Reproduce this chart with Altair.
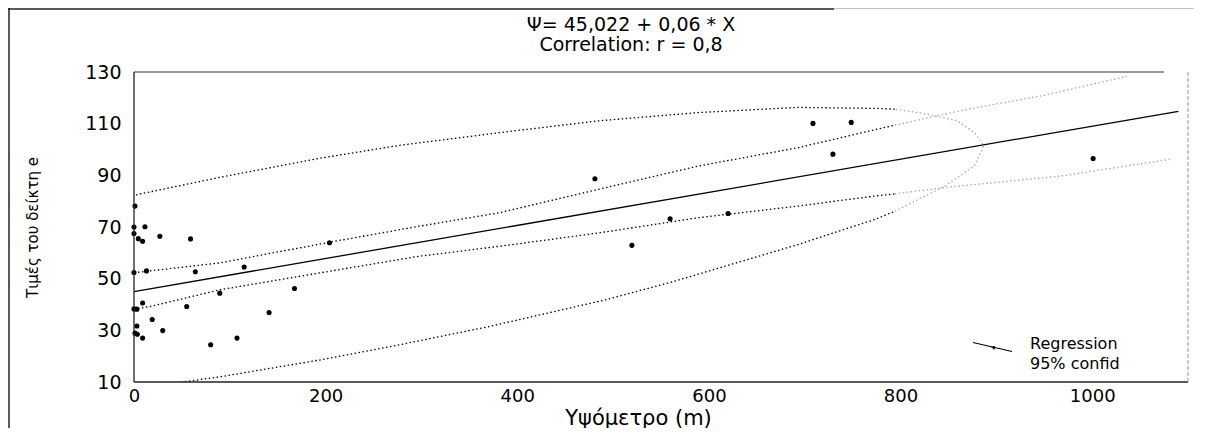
import altair as alt
import pandas as pd

# ---- scatter points ----
pts_x = [1, 11.4, 0, 0, 4.5, 9, 27, 59, 0, 13, 64, 115, 204, 167.5, 89.5, 9, 3, 0, 55, 141,
         19, 3, 30, 1, 3.5, 9, 107.5, 80, 481, 559.5, 620, 519.6, 708.6, 748.5, 729.4, 1001]
pts_y = [78.1, 70.1, 70.0, 67.5, 65.5, 64.5, 66.4, 65.4, 52.4, 53.0, 52.7, 54.5, 63.9, 46.2, 44.4, 40.6, 38.2, 38.3, 39.2, 36.9,
         34.2, 31.7, 29.9, 28.9, 28.5, 27.0, 27.0, 24.4, 88.7, 73.2, 75.2, 62.9, 110.1, 110.5, 98.2, 96.5]

# ---- regression line ----
reg_x = [0, 1090]
reg_y = [45.0, 114.8]

# ---- 95% confidence bands of the regression ----
ci_up_x = [0, 89.5, 204, 297.6, 381, 485, 589, 693, 776, 794]
ci_up_y = [52.3, 56.1, 64.1, 70.3, 75.5, 84.6, 93.6, 100.7, 107.9, 109.4]
ci_up_faint_x = [794, 866, 950, 1036]
ci_up_faint_y = [109.4, 115.3, 121.0, 128.3]
ci_lo_x = [0, 16.6, 89.5, 193.6, 297.6, 381, 485, 589, 693, 773, 794]
ci_lo_y = [38.2, 39.2, 45.7, 52.2, 58.7, 62.5, 67.7, 73.6, 78.1, 82.0, 82.8]
ci_lo_faint_x = [794, 846, 967, 1081]
ci_lo_faint_y = [82.8, 85.3, 89.7, 96.2]

# ---- confidence ellipse ----
ell_lo_x = [20, 41, 89.5, 193.6, 277, 371, 492, 564, 693, 773, 794]
ell_lo_y = [8.7, 9.5, 12.0, 18.5, 24.4, 31.5, 41.8, 49.0, 63.2, 72.9, 76.1]
ell_faint_x = [794, 846, 877, 887, 877, 859, 828, 794]
ell_faint_y = [76.1, 85.8, 93.6, 101.4, 106.6, 111.1, 113.7, 115.6]
ell_up_x = [794, 776, 693, 589, 485, 381, 277, 193.6, 89.5, 0]
ell_up_y = [115.6, 115.9, 116.3, 114.3, 111.1, 106.5, 101.6, 96.6, 89.2, 82.3]

x_ticks = [0, 200, 400, 600, 800, 1000]
y_ticks = [10, 30, 50, 70, 90, 110, 130]
title_lines = ["\u03a8= 45,022 + 0,06 * X", "Correlation: r = 0,8"]
x_title = "\u03a5\u03c8\u03cc\u03bc\u03b5\u03c4\u03c1\u03bf (m)"
y_title = "\u03a4\u03b9\u03bc\u03ad\u03c2 \u03c4\u03bf\u03c5 \u03b4\u03b5\u03af\u03ba\u03c4\u03b7 e"
legend_labels = ["Regression", "95% confid"]

FONT = "DejaVu Sans"
W, H = 1054, 310

xs = alt.Scale(domain=[0, 1100], nice=False, zero=False)
ys = alt.Scale(domain=[10, 130], nice=False, zero=False)
xaxis = alt.Axis(values=x_ticks, format="d", title=x_title, grid=False, ticks=False, domain=False,
                 labelFont=FONT, labelFontSize=18, labelColor="black", labelPadding=5,
                 labelFlush=False, labelOverlap=False,
                 titleFont=FONT, titleFontSize=21, titleFontWeight="normal", titleColor="black",
                 titleX=504, titleY=36, titleBaseline="middle", titleAlign="center")
yaxis = alt.Axis(values=y_ticks, format="d", title=y_title, grid=False, ticks=False, domain=False,
                 labelFont=FONT, labelFontSize=19, labelColor="black", labelPadding=13,
                 labelFlush=False, labelOverlap=False,
                 titleFont=FONT, titleFontSize=15, titleFontWeight="normal", titleColor="black",
                 titleX=-102, titleY=155, titleAngle=270, titleBaseline="middle", titleAlign="center")
X = alt.X("x:Q", scale=xs, axis=xaxis)
Y = alt.Y("y:Q", scale=ys, axis=yaxis)


def curve(xv, yv, color, dash=None, width=1.3, clip=False):
    df = pd.DataFrame({"x": xv, "y": yv, "o": list(range(len(xv)))})
    kw = dict(color=color, strokeWidth=width, clip=clip)
    if dash:
        kw["strokeDash"] = dash
    return alt.Chart(df).mark_line(**kw).encode(x=X, y=Y, order="o:Q")


DOT = [1.5, 2.5]
DARK = "black"
FAINT = "#a8a8a8"

layers = [
    curve(ell_lo_x, ell_lo_y, DARK, DOT, clip=True),
    curve(ell_faint_x, ell_faint_y, FAINT, DOT),
    curve(ell_up_x, ell_up_y, DARK, DOT),
    curve(ci_up_x, ci_up_y, DARK, DOT),
    curve(ci_up_faint_x, ci_up_faint_y, FAINT, DOT),
    curve(ci_lo_x, ci_lo_y, DARK, DOT),
    curve(ci_lo_faint_x, ci_lo_faint_y, FAINT, DOT),
    curve(reg_x, reg_y, DARK, None, width=1.3),
    alt.Chart(pd.DataFrame({"x": pts_x, "y": pts_y})).mark_circle(
        size=26, color="black", opacity=1).encode(x=X, y=Y),
]

one = pd.DataFrame({"a": [0]})
# frame of the plot area
layers += [
    alt.Chart(one).mark_rule(color="#222", strokeWidth=1.3).encode(
        x=alt.value(0), x2=alt.value(0), y=alt.value(0), y2=alt.value(H)),
    alt.Chart(one).mark_rule(color="#222", strokeWidth=1.3).encode(
        x=alt.value(0), x2=alt.value(W), y=alt.value(H), y2=alt.value(H)),
    alt.Chart(one).mark_rule(color="#333", strokeWidth=1.2).encode(
        x=alt.value(0), x2=alt.value(1030), y=alt.value(0), y2=alt.value(0)),
    alt.Chart(one).mark_rule(color="#999", strokeWidth=1, strokeDash=[4, 2]).encode(
        x=alt.value(W), x2=alt.value(W), y=alt.value(0), y2=alt.value(H)),
    # scan borders of the page
    alt.Chart(one).mark_rule(color="#222", strokeWidth=1.6).encode(
        x=alt.value(-126), x2=alt.value(700), y=alt.value(-63), y2=alt.value(-63)),
    alt.Chart(one).mark_rule(color="#888", strokeWidth=1).encode(
        x=alt.value(700), x2=alt.value(1060), y=alt.value(-64), y2=alt.value(-64)),
    alt.Chart(one).mark_rule(color="#222", strokeWidth=1.5).encode(
        x=alt.value(-125), x2=alt.value(-125), y=alt.value(-64), y2=alt.value(356)),
]

# chart title (two lines) drawn as text
ttl = pd.DataFrame({"t": title_lines, "ty": [-47, -27]})
layers.append(
    alt.Chart(ttl).mark_text(align="center", baseline="middle", font=FONT, fontSize=19,
                             color="black").encode(x=alt.value(497),
                                                   y=alt.Y("ty:Q", scale=None),
                                                   text="t:N"))

# legend (symbol + labels)
leg = pd.DataFrame({"label": legend_labels, "ly": [272, 292]})
layers += [
    alt.Chart(one).mark_rule(color="black", strokeWidth=1.2).encode(
        x=alt.value(839), x2=alt.value(878), y=alt.value(270.5), y2=alt.value(279.5)),
    alt.Chart(one).mark_point(shape="triangle-left", filled=True, size=18, color="black",
                              opacity=1, angle=13).encode(x=alt.value(859), y=alt.value(275.5)),
    alt.Chart(leg).mark_text(align="left", baseline="middle", font=FONT, fontSize=16,
                             color="black").encode(x=alt.value(896),
                                                   y=alt.Y("ly:Q", scale=None),
                                                   text="label:N"),
]

chart = alt.layer(*layers).properties(
    width=W, height=H,
    padding={"left": 126, "top": 64, "right": 27, "bottom": 46},
    autosize=alt.AutoSizeParams(type="none"),
    background="white",
).configure_view(stroke=None)

chart.save("out.html", embed_options={"renderer": "svg", "actions": False})
